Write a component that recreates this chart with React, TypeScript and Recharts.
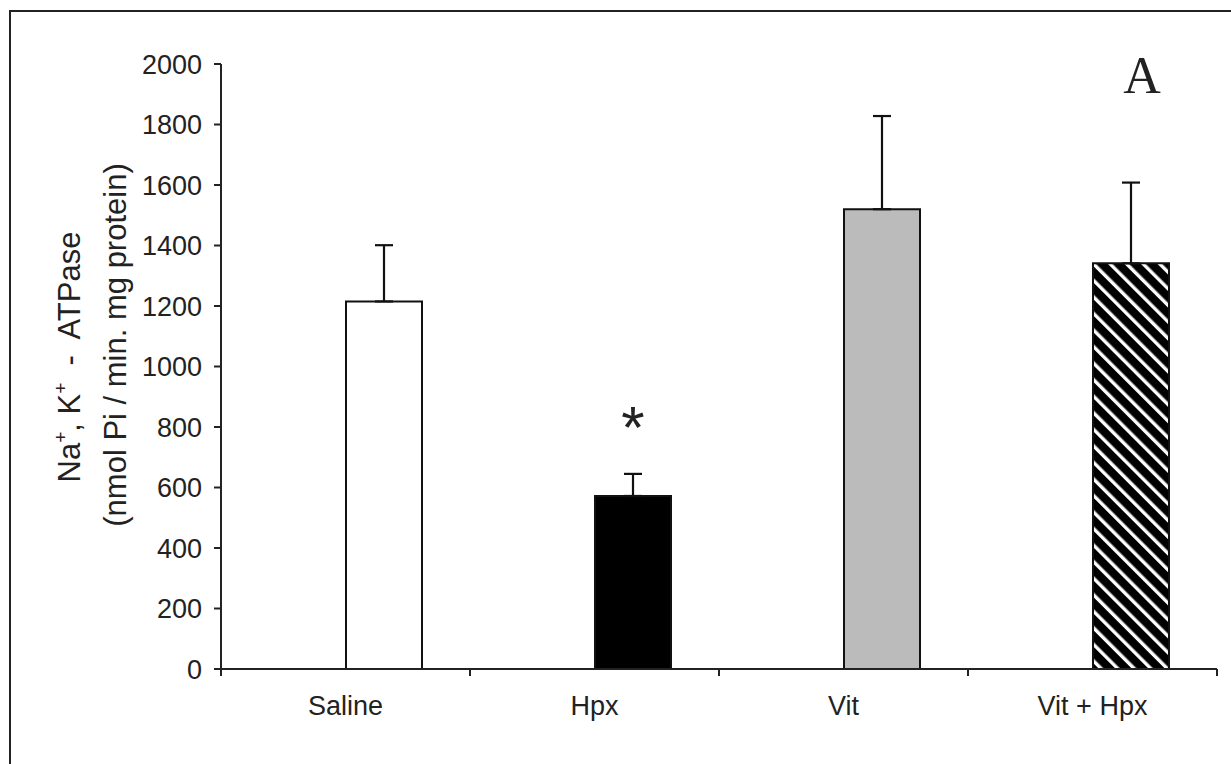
import React from 'react';
import { BarChart, Bar, XAxis, YAxis, ErrorBar, Cell, LabelList, Customized } from 'recharts';

const categories = ['Saline', 'Hpx', 'Vit', 'Vit + Hpx'];
const means = [1215, 572, 1520, 1341];
const sem = [186, 73, 308, 267];
const marks = ['', '*', '', ''];
const fills = ['#ffffff', '#000000', '#bbbbbb', 'url(#hatch)'];
const yTicks = [0, 200, 400, 600, 800, 1000, 1200, 1400, 1600, 1800, 2000];
const slotCentres = [0.5, 1.5, 2.5, 3.5];
const boundaryTicks = [0, 1, 2, 3, 4];

const data = categories.map((c, i) => ({
  name: c,
  pos: slotCentres[i],
  empty: null,
  value: means[i],
  err: [0, sem[i]],
  mark: marks[i],
}));

const FONT = '"Liberation Sans", Arial, sans-serif';

const Star = (props: any) => {
  const { x, y, width, value } = props;
  if (!value) return null;
  return (
    <text x={x + width / 2} y={y - 48} textAnchor="middle" fontFamily={FONT} fontSize={60} fill="#222">
      {value}
    </text>
  );
};

const Decor = () => (
  <g>
    <text transform="rotate(-90, 80, 357)" x={80} y={357} textAnchor="middle" fontFamily={FONT} fontSize={31} fill="#222" style={{ whiteSpace: 'pre' }}>
      Na<tspan fontSize={19} dy={-13}>+</tspan><tspan dy={13}>, K</tspan><tspan fontSize={19} dy={-13}>+</tspan><tspan dy={13}>  -  ATPase</tspan>
    </text>
    <text transform="rotate(-90, 126, 345)" x={126} y={345} textAnchor="middle" fontFamily={FONT} fontSize={31} fill="#222">
      (nmol Pi / min. mg protein)
    </text>
    <text x={1142} y={93} textAnchor="middle" fontFamily='"Liberation Serif", "Times New Roman", serif' fontSize={52} fill="#222">
      A
    </text>
  </g>
);

export default function App() {
  return (
    <div style={{ position: 'absolute', left: 0, top: 0, width: 1231, height: 764, background: '#fff', overflow: 'hidden' }}>
      <div style={{ position: 'absolute', left: 8.5, top: 9.5, width: 1300, height: 900, borderLeft: '2px solid #222', borderTop: '2px solid #222' }} />
      <div style={{ position: 'absolute', left: 0, top: 0 }}>
        <BarChart
          width={1231}
          height={764}
          data={data}
          margin={{ top: 64, right: 14, bottom: 34, left: 71 }}
          barSize={76}
          barGap={1}
        >
          <defs>
            <pattern id="hatch" patternUnits="userSpaceOnUse" width="11.7" height="11.7" patternTransform="rotate(-45)">
              <rect x="0" y="0" width="11.7" height="11.7" fill="#000" />
              <rect x="0" y="0" width="3.4" height="11.7" fill="#fff" />
            </pattern>
          </defs>
          <XAxis
            xAxisId={0}
            dataKey="pos"
            type="number"
            domain={[0, 4]}
            ticks={boundaryTicks}
            allowDataOverflow
            height={1}
            axisLine={{ stroke: '#222', strokeWidth: 2 }}
            tickLine={{ stroke: '#222', strokeWidth: 2 }}
            tickSize={7}
            tick={() => <g />}
          />
          <XAxis
            xAxisId="cat"
            dataKey="name"
            height={60}
            axisLine={false}
            tickLine={false}
            tickMargin={20}
            interval={0}
            tick={{ fontFamily: FONT, fontSize: 27, fill: '#222' }}
          />
          <YAxis
            width={150}
            domain={[0, 2000]}
            ticks={yTicks}
            interval={0}
            axisLine={{ stroke: '#222', strokeWidth: 2 }}
            tickLine={{ stroke: '#222', strokeWidth: 2 }}
            tickSize={7}
            tickMargin={12}
            tick={{ fontFamily: FONT, fontSize: 27, fill: '#222' }}
          />
          <Bar xAxisId="cat" dataKey="empty" isAnimationActive={false} fill="none" />
          <Bar xAxisId="cat" dataKey="value" isAnimationActive={false} stroke="#111" strokeWidth={2}>
            {data.map((d, i) => (
              <Cell key={d.name} fill={fills[i]} />
            ))}
            <ErrorBar dataKey="err" direction="y" width={9} stroke="#111" strokeWidth={2.2} />
            <LabelList dataKey="mark" content={Star} />
          </Bar>
          <Customized component={Decor} />
        </BarChart>
      </div>
    </div>
  );
}
